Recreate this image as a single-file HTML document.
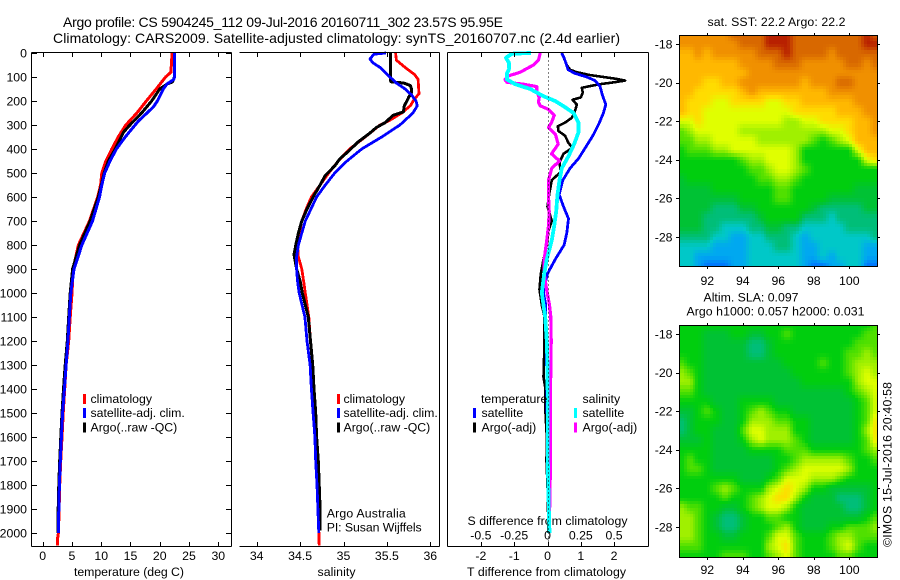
<!DOCTYPE html>
<html>
<head>
<meta charset="utf-8">
<style>
html,body{margin:0;padding:0;background:#fff;width:900px;height:580px;overflow:hidden}
svg{display:block}
text{font-family:"Liberation Sans",sans-serif;font-size:12.3px;fill:#000}
.ttl{font-size:14px}
</style>
</head>
<body>
<svg id="fig" xmlns="http://www.w3.org/2000/svg" width="900" height="580" viewBox="0 0 900 580">
  <rect x="0" y="0" width="900" height="580" fill="#fff"/>
  <text class="ttl" x="63" y="27" textLength="440">Argo profile: CS 5904245_112 09-Jul-2016 20160711_302 23.57S 95.95E</text>
  <text class="ttl" x="53" y="43" textLength="567">Climatology: CARS2009. Satellite-adjusted climatology: synTS_20160707.nc (2.4d earlier)</text>
  <text x="74" y="576" textLength="110">temperature (deg C)</text>
  <text x="317.5" y="576" textLength="38">salinity</text>
  <text x="467" y="576" textLength="159">T difference from climatology</text>
  <text x="467.5" y="525" textLength="160">S difference from climatology</text>
  <text x="326.7" y="517.5" textLength="79">Argo Australia</text>
  <text x="326.7" y="531.5" textLength="95">PI: Susan Wijffels</text>
  <text x="707.5" y="26" textLength="138">sat. SST: 22.2 Argo: 22.2</text>
  <text x="703.5" y="301.5" textLength="95">Altim. SLA: 0.097</text>
  <text x="686.5" y="315.5" textLength="178">Argo h1000: 0.057 h2000: 0.031</text>
  <text transform="translate(891.5,547) rotate(-90)" x="0" y="0" textLength="165">©IMOS 15-Jul-2016 20:40:58</text>
  <g id="maps"></g>
  <g id="marks"></g>
  <g id="axes"></g>
  <g id="legends"></g>
</svg>
<script>
/* ---------- profile data ---------- */
const tempClimDepth = [0,80,100,150,200,250,300,350,400,450,500,550,600,700,800,900,1000,1100,1200,1300,1400,1500,1600,1700,1800,1900,2000,2030,2053];
const tempClim = [22.1,21.9,21.0,19.4,17.7,16.1,14.2,12.9,11.8,10.8,10.1,9.9,9.4,8.0,6.1,5.2,5.0,4.7,4.45,4.0,3.76,3.5,3.3,3.07,2.9,2.8,2.68,2.5,2.5];
const tempSatDepth = [0,100,110,130,150,200,225,285,350,400,450,500,550,600,700,800,900,1000,1100,1200,1300,1400,1500,1600,1700,1800,1900,2000];
const tempSat = [22.5,22.5,22.4,21.2,20.6,19.6,18.9,16.3,14.1,12.6,11.5,10.6,10.1,9.7,8.5,6.7,5.35,4.8,4.55,4.3,4.0,3.7,3.4,3.2,3.0,2.85,2.75,2.68];
const tempArgoDepth = [0,100,120,130,150,200,250,300,330,400,450,500,600,700,800,900,1000,1100,1200,1300,1400,1500,1600,1700,1800,1900,2000];
const tempArgo = [22.5,22.5,22.2,21.2,20.0,18.6,16.9,14.9,13.8,12.4,11.2,10.5,9.5,8.1,6.3,5.1,4.7,4.45,4.2,3.85,3.55,3.3,3.1,2.9,2.75,2.65,2.6];

const salClimDepth = [0,30,60,90,110,170,190,220,250,280,300,350,400,450,500,550,600,650,700,750,800,850,900,950,1000,1100,1200,1300,1500,1700,1900,2053];
const salClim = [35.60,35.61,35.71,35.82,35.86,35.87,35.82,35.77,35.67,35.535,35.42,35.25,35.07,34.94,34.83,34.73,34.63,34.57,34.52,34.49,34.47,34.48,34.52,34.54,34.56,34.60,34.62,34.645,34.67,34.69,34.71,34.72];
const salSatDepth = [0,5,25,40,60,100,125,150,175,200,220,250,280,300,350,400,450,500,550,600,700,750,800,850,900,950,1000,1100,1200,1300,1400,1500,1600,1700,1800,1900,2000];
const salSat = [35.49,35.35,35.305,35.335,35.42,35.535,35.61,35.71,35.785,35.835,35.85,35.80,35.71,35.65,35.44,35.21,35.04,34.90,34.79,34.69,34.56,34.52,34.48,34.46,34.46,34.47,34.49,34.555,34.58,34.615,34.63,34.65,34.67,34.68,34.695,34.705,34.715];
const salArgoDepth = [0,115,120,125,135,150,165,185,200,220,245,260,290,310,335,370,415,440,470,510,550,600,650,700,750,800,840,900,950,1000,1100,1200,1300,1400,1500,1600,1700,1800,1900,1990];
const salArgo = [35.54,35.54,35.55,35.69,35.77,35.785,35.785,35.75,35.73,35.70,35.69,35.57,35.48,35.38,35.30,35.17,35.04,34.96,34.90,34.79,34.73,34.65,34.58,34.52,34.48,34.45,34.43,34.46,34.50,34.525,34.595,34.62,34.645,34.66,34.68,34.69,34.71,34.72,34.73,34.73];

const diffTSatDepth = [0,20,70,85,100,115,140,175,215,250,290,340,385,440,480,530,590,640,690,750,800,860,920,960,1000,1050,1100,1200,1400,1600,1800,2000];
const diffTSat = [0.42,0.5,0.62,0.83,1.18,1.43,1.58,1.65,1.75,1.68,1.56,1.38,1.18,0.93,0.68,0.46,0.35,0.48,0.63,0.58,0.5,0.23,0,-0.07,-0.12,-0.05,-0.05,-0.03,-0.02,0,0.02,0.05];
const diffTArgoDepth = [0,50,70,80,92,100,108,115,122,130,135,145,165,185,195,215,240,270,290,305,325,345,375,395,420,455,495,530,580,640,700,740,800,860,920,985,1050,1100,1250,1350,1400,1500,1600,1700,1800,2000];
const diffTArgo = [0.43,0.58,0.68,0.88,1.28,1.68,2.08,2.33,2.0,1.58,1.38,1.03,1.06,1.0,0.75,0.88,0.83,0.73,0.53,0.31,0.33,0.53,0.63,0.75,0.48,0.36,0.4,0.13,0.06,0,0.13,0.03,-0.02,-0.12,-0.2,-0.24,-0.17,-0.09,-0.1,-0.12,-0.06,-0.06,-0.02,-0.03,0,0.03];
const diffSSatDepth = [0,3,20,40,65,85,110,130,150,180,200,225,250,290,330,380,430,480,530,590,660,720,780,860,920,1000,1100,1200,1300,1500,1700,1900,2000];
const diffSSat = [-0.125,-0.2675,-0.3125,-0.29,-0.2875,-0.305,-0.305,-0.2425,-0.13,-0.03,0.0575,0.13,0.195,0.2325,0.2325,0.2,0.1575,0.1075,0.09,0.075,0.065,0.05,0.0325,-0.005,-0.025,-0.0425,-0.0175,-0.005,0,0.0025,0.0025,0.01,0.015];
const diffSArgoDepth = [0,30,50,80,95,110,122,130,140,160,185,205,220,235,260,290,310,340,380,420,450,480,530,600,660,720,780,860,920,990,1050,1100,1200,1400,1700,2000];
const diffSArgo = [-0.055,-0.0675,-0.105,-0.205,-0.29,-0.32,-0.305,-0.18,-0.08,-0.08,-0.0625,-0.0675,-0.055,0.0075,0.05,0.03,0.0075,0.06,0.08,0.03,0.09,0.0325,0.0075,0.0075,0.0125,0.0075,-0.005,-0.025,-0.025,-0.005,0.015,0.025,0.0275,0.0225,0.0225,0.0125];

/* ---------- tick labels ---------- */
const depthTicks = [0,100,200,300,400,500,600,700,800,900,1000,1100,1200,1300,1400,1500,1600,1700,1800,1900,2000];
const tempTicks = [0,5,10,15,20,25,30];
const salTicks = [34,34.5,35,35.5,36];
const tDiffTicks = [-2,-1,0,1,2];
const sDiffTicks = [-0.5,-0.25,0,0.25,0.5];
const sDiffLabels = ["-0.5","-0.25","0","0.25","0.5"];
const lonTicks = [92,94,96,98,100];
const latTicks = [18,20,22,24,26,28];

/* ---------- map data: levels on the colour scale ---------- */
const mapLons = [90.5,91,91.5,92,92.5,93,93.5,94,94.5,95,95.5,96,96.5,97,97.5,98,98.5,99,99.5,100,100.5,101,101.5];
const mapLats = [17.5,18,18.5,19,19.5,20,20.5,21,21.5,22,22.5,23,23.5,24,24.5,25,25.5,26,26.5,27,27.5,28,28.5,29,29.5];
const sstLevels = [
[11,11,11,11,11,11,12,12,12,12,13,13,13,12,12,12,12,12,12,12,12,13,12],
[11,11,11,11,11,11,11,12,12,12,13,13,13,12,12,12,12,12,12,12,12,13,13],
[10,10,11,10,11,11,11,11,11,12,12,12,13,12,12,12,12,11,12,12,12,12,12],
[10,10,10,10,10,10,10,11,11,11,11,12,12,12,11,11,11,11,11,12,12,11,12],
[10,10,10,10,10,10,10,10,11,11,11,11,11,11,11,11,11,11,11,11,11,11,11],
[10,10,10,9,9,10,10,11,11,11,11,11,11,11,10,11,11,11,12,12,11,11,11],
[10,10,9,9,9,9,9,10,11,10,10,10,10,10,10,10,10,11,11,11,11,11,11],
[10,9,9,9,8,8,9,9,9,9,8,8,9,9,10,10,10,10,10,10,11,11,11],
[10,9,9,8,8,8,8,8,8,8,8,8,8,9,9,9,9,9,10,10,10,11,11],
[8,8,9,8,8,8,8,8,8,8,8,8,7,7,8,8,9,9,9,9,10,10,11],
[6,7,8,8,8,8,8,7,7,7,7,7,7,7,7,7,7,8,8,9,10,10,11],
[6,6,7,7,8,8,8,8,8,7,7,7,7,7,7,6,5,6,7,8,10,10,10],
[5,6,6,6,7,7,8,8,8,8,8,8,8,7,5,5,5,5,5,5,8,10,10],
[5,5,5,5,5,5,5,6,7,7,8,8,8,7,5,5,5,5,5,5,5,8,9],
[5,5,5,5,5,5,5,5,6,6,7,8,8,7,6,5,5,5,5,5,5,5,5],
[4,5,5,5,5,5,5,5,5,6,6,7,7,6,5,5,5,5,5,5,5,5,5],
[4,4,4,4,5,5,5,5,5,5,5,6,6,5,5,5,5,5,5,5,4,4,4],
[4,4,4,4,4,4,4,5,5,5,5,6,6,5,5,5,5,4,4,4,4,4,4],
[4,4,4,4,3,3,3,4,4,5,5,5,5,5,5,4,3,3,3,3,3,4,4],
[4,4,4,3,3,3,3,3,3,4,5,5,5,5,3,3,3,2,3,3,3,3,3],
[4,4,4,3,3,2,2,2,3,3,4,4,3,3,2,2,2,2,2,3,3,3,3],
[3,3,3,3,2,2,1,1,2,2,3,3,3,2,1,2,2,2,2,2,2,2,3],
[2,2,2,2,1,1,1,1,2,2,2,3,3,2,1,1,2,2,2,2,2,1,1],
[2,2,1,1,1,1,1,1,2,2,2,2,2,2,1,1,2,1,2,2,2,1,1],
[2,2,1,0,0,0,1,1,2,2,2,2,2,2,1,0,0,1,1,2,2,0,0]
];
const slaLevels = [
[5,5,5,5,5,5,5,5,5,5,5,5,5,5,5,5,5,5,5,5,5,5,6],
[5,5,5,4,4,4,5,5,4,4,5,5,6,5,5,5,5,5,5,5,5,6,6],
[5,5,5,4,4,4,4,4,3,3,4,5,5,5,5,5,5,5,5,5,6,6,6],
[5,5,5,4,4,4,4,4,3,3,4,5,5,5,5,5,5,5,5,6,6,7,6],
[6,5,5,4,4,4,4,4,4,4,4,4,5,5,5,5,6,5,5,6,7,7,7],
[7,6,5,4,4,4,4,4,4,4,4,4,4,5,5,5,5,5,5,6,7,8,7],
[7,7,5,4,4,4,4,4,4,4,4,4,4,4,5,5,5,5,5,5,7,8,8],
[6,6,5,4,4,4,4,4,4,4,4,4,4,4,4,4,4,4,4,5,6,7,8],
[5,5,5,5,4,4,4,5,5,5,5,4,4,4,4,4,4,4,4,4,5,6,8],
[4,4,5,6,5,4,4,5,6,7,6,5,5,4,4,4,4,4,4,4,5,6,8],
[3,4,5,5,5,4,4,5,7,7,7,6,6,5,5,4,4,4,4,4,5,6,9],
[3,4,5,5,4,4,4,6,8,8,7,7,7,5,5,4,4,4,4,4,5,7,9],
[4,4,4,5,4,4,4,5,7,8,7,7,7,6,5,4,4,4,4,4,5,6,9],
[5,5,5,5,4,4,4,4,5,5,5,5,6,6,6,5,5,5,5,5,5,6,7],
[5,6,5,5,4,4,4,4,4,4,4,5,5,6,7,7,7,7,7,6,5,5,6],
[5,6,6,5,4,4,4,4,4,4,4,5,6,7,8,8,8,8,8,7,5,5,5],
[5,5,5,5,5,5,5,4,4,4,5,6,8,8,8,7,7,7,6,5,5,5,5],
[5,5,5,5,6,7,6,5,5,5,7,8,9,8,7,5,5,4,4,4,4,4,5],
[5,5,5,5,5,6,5,5,6,7,8,9,9,7,5,4,4,4,3,3,3,4,5],
[7,6,6,5,5,4,4,5,6,7,8,8,7,5,4,4,4,4,4,3,3,4,5],
[7,7,6,5,4,3,3,4,5,5,6,6,5,5,4,4,4,4,4,4,4,5,6],
[7,7,6,5,4,3,3,4,5,5,5,6,7,5,4,4,4,5,5,6,6,6,7],
[7,7,6,5,5,4,4,5,5,5,6,8,8,6,5,5,5,6,7,7,6,6,6],
[6,6,6,5,5,5,5,5,5,5,7,8,9,6,5,5,5,6,7,8,6,5,5],
[5,5,5,5,5,6,6,6,5,5,6,7,8,6,5,5,5,5,6,6,5,5,5]
];
const levelColors = [[0,112,255],[0,168,240],[0,200,200],[0,190,120],[0,194,52],[0,206,14],[80,224,0],[160,240,0],[224,255,0],[255,220,0],[255,184,0],[240,144,0],[216,104,0],[184,32,0]];

/* ---------- axes functions ---------- */
const NS = "http://www.w3.org/2000/svg";
const plotTop = 52.5, plotBottom = 546.5;
const yDepth = d => 53 + d * 0.24;
const xTemp = t => 42.7 + t * 5.853;
const xSal = s => 256.7 + (s - 34) * 86.8;
const xDiffT = t => 547.5 + t * 33.3;
const xDiffS = s => 547.5 + s * 133.2;
const mapXLon = lon => 707.3 + (lon - 92) * 17.75;
const sstYLat = lat => 44 + (lat - 18) * 19.3;
const slaYLat = lat => 334 + (lat - 18) * 19.3;

const marks = document.getElementById('marks');
const axes = document.getElementById('axes');
const legends = document.getElementById('legends');
const maps = document.getElementById('maps');

function makeLine(parent, x1, y1, x2, y2) {
  const el = document.createElementNS(NS, 'line');
  el.setAttribute('x1', x1); el.setAttribute('y1', y1);
  el.setAttribute('x2', x2); el.setAttribute('y2', y2);
  el.setAttribute('stroke', '#000');
  el.setAttribute('stroke-width', 1);
  el.setAttribute('shape-rendering', 'crispEdges');
  parent.appendChild(el);
  return el;
}
function makeText(parent, x, y, str, anchor) {
  const el = document.createElementNS(NS, 'text');
  el.setAttribute('x', x); el.setAttribute('y', y);
  el.setAttribute('text-anchor', anchor || 'start');
  el.textContent = str;
  parent.appendChild(el);
  return el;
}
function makeSeries(depths, values, xFn, color, width) {
  const el = document.createElementNS(NS, 'polyline');
  el.setAttribute('points', depths.map((d, i) => xFn(values[i]).toFixed(1) + ',' + yDepth(d).toFixed(1)).join(' '));
  el.setAttribute('fill', 'none');
  el.setAttribute('stroke', color);
  el.setAttribute('stroke-width', width);
  el.setAttribute('stroke-linejoin', 'round');
  el.setAttribute('shape-rendering', 'crispEdges');
  marks.appendChild(el);
  return el;
}

/* ---------- series ---------- */
let s;
s = makeSeries(tempClimDepth, tempClim, xTemp, '#ff0000', 3);


s = makeSeries(tempArgoDepth, tempArgo, xTemp, '#000000', 3);


s = makeSeries(tempSatDepth, tempSat, xTemp, '#0000ff', 3);


s = makeSeries(salClimDepth, salClim, xSal, '#ff0000', 2.8);


s = makeSeries(salArgoDepth, salArgo, xSal, '#000000', 3);


s = makeSeries(salSatDepth, salSat, xSal, '#0000ff', 2.8);



const zeroLine = makeLine(axes, 548.5, plotTop, 548.5, plotBottom);
zeroLine.setAttribute('stroke-dasharray', '1 3');



s = makeSeries(diffTArgoDepth, diffTArgo, xDiffT, '#000000', 2.6);


s = makeSeries(diffTSatDepth, diffTSat, xDiffT, '#0000ff', 2.8);


s = makeSeries(diffSArgoDepth, diffSArgo, xDiffS, '#ff00ff', 3.2);


s = makeSeries(diffSSatDepth, diffSSat, xDiffS, '#00ffff', 3.8);



/* ---------- panel frames ---------- */
let f;
f = makeLine(axes, 31.5, plotTop, 231.5, plotTop);


f = makeLine(axes, 31.5, plotBottom, 231.5, plotBottom);


f = makeLine(axes, 31.5, plotTop, 31.5, plotBottom);


f = makeLine(axes, 231.5, plotTop, 231.5, plotBottom);


f = makeLine(axes, 239.5, plotTop, 439.5, plotTop);


f = makeLine(axes, 239.5, plotBottom, 439.5, plotBottom);


f = makeLine(axes, 439.5, plotTop, 439.5, plotBottom);


f = makeLine(axes, 447.5, plotTop, 648.5, plotTop);


f = makeLine(axes, 447.5, plotBottom, 648.5, plotBottom);


f = makeLine(axes, 447.5, plotTop, 447.5, plotBottom);


f = makeLine(axes, 648.5, plotTop, 648.5, plotBottom);



/* ---------- depth ticks ---------- */
depthTicks.forEach(d => {
  const y = Math.round(yDepth(d)) + 0.5;
  const a = makeLine(axes, 31.5, y, 37, y);
  
  
  const b = makeLine(axes, 226, y, 231.5, y);
  
  
  const t = makeText(axes, 27, yDepth(d) + 4.3, String(d), 'end');
  
  
});

/* ---------- x ticks ---------- */
function xTicks(list, xFn, labels, labelY) {
  list.forEach((v, i) => {
    const x = Math.round(xFn(v)) + 0.5;
    const a = makeLine(axes, x, plotTop, x, plotTop + 4.5);
    
    
    const b = makeLine(axes, x, plotBottom - 4.5, x, plotBottom);
    
    
    const t = makeText(axes, xFn(v), labelY, labels[i], 'middle');
    
    
  });
}
xTicks(tempTicks, xTemp, tempTicks.map(String), 560);
xTicks(salTicks, xSal, salTicks.map(String), 560);
xTicks(tDiffTicks, xDiffT, tDiffTicks.map(String), 560);
sDiffTicks.forEach((v, i) => {
  const t = makeText(axes, xDiffS(v), 539.5, sDiffLabels[i], 'middle');
  
  
});

/* ---------- legends ---------- */
function legendEntry(swatchX, textX, y, color, label) {
  const g = document.createElementNS(NS, 'g');
  const r = document.createElementNS(NS, 'rect');
  r.setAttribute('x', swatchX); r.setAttribute('y', y - 9);
  r.setAttribute('width', 3); r.setAttribute('height', 10);
  r.setAttribute('fill', color);
  g.appendChild(r);
  makeText(g, textX, y, label);
  legends.appendChild(g);
  return g;
}
const legendRowY = [403, 417, 431.5];
const profileLegendLabels = ['climatology', 'satellite-adj. clim.', 'Argo(..raw -QC)'];
const profileLegendColors = ['#ff0000', '#0000ff', '#000000'];
profileLegendLabels.forEach((lab, i) => {
  const a = legendEntry(83, 90.5, legendRowY[i], profileLegendColors[i], lab);
  
  
  const b = legendEntry(337, 343.5, legendRowY[i], profileLegendColors[i], lab);
  
  
});
const lh1 = makeText(legends, 481, 403, 'temperature');


const lh2 = makeText(legends, 582.5, 403, 'salinity');


let le;
le = legendEntry(473, 481.5, 417, '#0000ff', 'satellite');


le = legendEntry(473, 481.5, 431.5, '#000000', 'Argo(-adj)');


le = legendEntry(574, 582.5, 417, '#00ffff', 'satellite');


le = legendEntry(574, 582.5, 431.5, '#ff00ff', 'Argo(-adj)');



/* ---------- maps ---------- */
function levelColor(v) {
  const i = Math.max(0, Math.min(levelColors.length - 2, Math.floor(v)));
  const u = Math.max(0, Math.min(1, v - i));
  const a = levelColors[i], b = levelColors[i + 1];
  return 'rgb(' + [0, 1, 2].map(k => Math.round(a[k] + (b[k] - a[k]) * u)).join(',') + ')';
}
function drawMap(levels, yLat, left, right, top, bottom, cellName, frameName, labelBase) {
  const SUB = 3;
  for (let r = 0; r < mapLats.length - 1; r++) {
    for (let c = 0; c < mapLons.length - 1; c++) {
      for (let sr = 0; sr < SUB; sr++) {
        for (let sc = 0; sc < SUB; sc++) {
          const u = (sc + 0.5) / SUB, w = (sr + 0.5) / SUB;
          const v = levels[r][c] * (1 - u) * (1 - w) + levels[r][c + 1] * u * (1 - w) +
                    levels[r + 1][c] * (1 - u) * w + levels[r + 1][c + 1] * u * w;
          const dLon = mapLons[c + 1] - mapLons[c], dLat = mapLats[r + 1] - mapLats[r];
          let x0 = Math.round(mapXLon(mapLons[c] + dLon * sc / SUB));
          let x1 = Math.round(mapXLon(mapLons[c] + dLon * (sc + 1) / SUB));
          let y0 = Math.round(yLat(mapLats[r] + dLat * sr / SUB));
          let y1 = Math.round(yLat(mapLats[r] + dLat * (sr + 1) / SUB));
          if (c === 0 && sc === 0) x0 = left;
          if (c === mapLons.length - 2 && sc === SUB - 1) x1 = right;
          if (r === 0 && sr === 0) y0 = top;
          if (r === mapLats.length - 2 && sr === SUB - 1) y1 = bottom;
          const cell = document.createElementNS(NS, 'rect');
          cell.setAttribute('x', x0); cell.setAttribute('y', y0);
          cell.setAttribute('width', x1 - x0); cell.setAttribute('height', y1 - y0);
          cell.setAttribute('fill', levelColor(v));
          cell.setAttribute('shape-rendering', 'crispEdges');
          
          
          maps.appendChild(cell);
        }
      }
    }
  }
  const frame = document.createElementNS(NS, 'rect');
  frame.setAttribute('x', left + 0.5); frame.setAttribute('y', top + 0.5);
  frame.setAttribute('width', right - left); frame.setAttribute('height', bottom - top);
  frame.setAttribute('fill', 'none'); frame.setAttribute('stroke', '#000');
  frame.setAttribute('shape-rendering', 'crispEdges');
  
  
  maps.appendChild(frame);
  lonTicks.forEach(lon => {
    const x = Math.round(mapXLon(lon)) + 0.5;
    const a = makeLine(maps, x, top - 2, x, top);
    
    
    const b = makeLine(maps, x, bottom, x, bottom + 3);
    
    
    const t = makeText(maps, mapXLon(lon), labelBase, String(lon), 'middle');
    
    
  });
  latTicks.forEach(lat => {
    const y = Math.round(yLat(lat)) + 0.5;
    const a = makeLine(maps, left - 3, y, left, y);
    
    
    const b = makeLine(maps, right, y, right + 3, y);
    
    
    const t = makeText(maps, left - 6.5, yLat(lat) + 4.3, '-' + lat, 'end');
    
    
  });
}
drawMap(sstLevels, sstYLat, 679, 877, 35, 266, 'sst-map-cell', 'sst-map-frame', 285);
drawMap(slaLevels, slaYLat, 679, 877, 325, 557, 'sla-map-cell', 'sla-map-frame', 574);
</script>
</body>
</html>
